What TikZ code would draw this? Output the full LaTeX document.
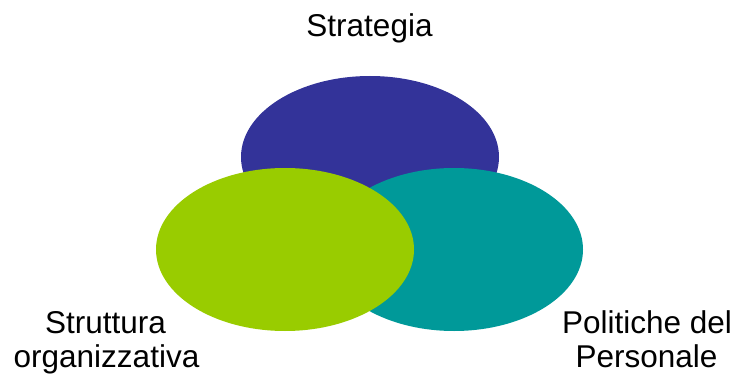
\documentclass[tikz,border=0pt]{standalone}
\usepackage{fontspec}
\setmainfont{Liberation Sans}
\definecolor{cblue}{HTML}{333399}
\definecolor{cteal}{HTML}{009999}
\definecolor{cgreen}{HTML}{99CC00}
\begin{document}
\begin{tikzpicture}[x=1pt,y=-1pt,
  lbl/.style={inner sep=0pt,anchor=base,font=\fontsize{31.5}{34}\selectfont}]
\useasboundingbox (0,0) rectangle (733,374);
\fill[cblue] (370,157) ellipse [x radius=129, y radius=81];
\fill[cteal] (454,249.5) ellipse [x radius=129, y radius=81.5];
\fill[cgreen] (285,249.5) ellipse [x radius=129, y radius=81.5];
\node[lbl] (s) at (369.5,37) {Strategia};
\node[lbl] (o1) at (105.5,333) {Struttura};
\node[lbl] (o2) at (106.5,367) {organizzativa};
\node[lbl] (p1) at (647,333) {Politiche del};
\node[lbl] (p2) at (646.5,367) {Personale};
\end{tikzpicture}
\end{document}
